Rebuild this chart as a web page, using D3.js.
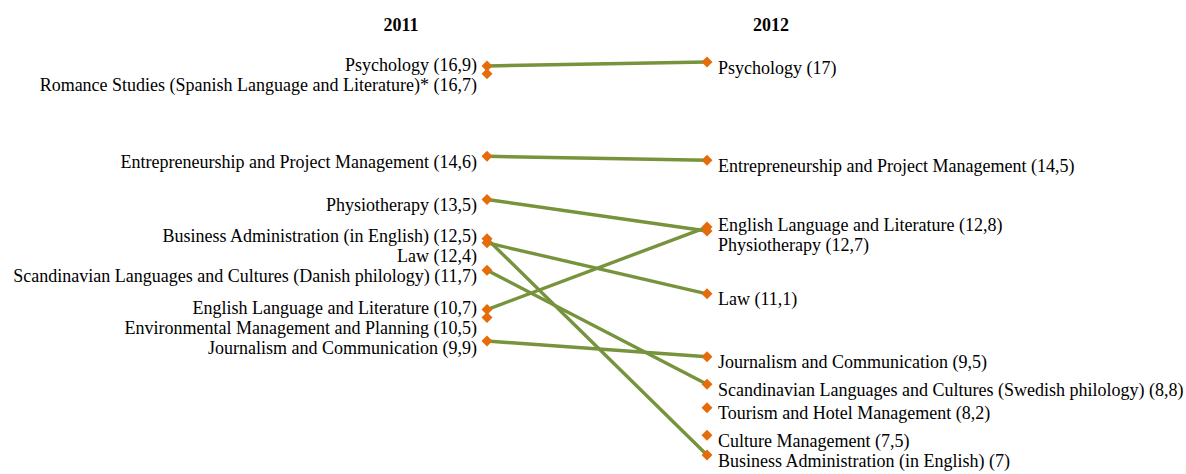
<!DOCTYPE html>
<html>
<head>
<meta charset="utf-8">
<script src="https://cdn.jsdelivr.net/npm/d3@7"></script>
<style>
  body { margin: 0; background: #fff; }
  text { font-family: "Liberation Serif", "Times New Roman", serif; font-size: 18px; fill: #000; }
  text.year { font-weight: bold; }
  line.slope { stroke: #77933C; stroke-width: 3.4; stroke-linecap: round; }
  path.marker { fill: #E46C0A; }
</style>
</head>
<body>
<svg width="1186" height="474"></svg>
<script>
const years = ['2011', '2012']
const leftNames =
    [ 'Psychology'
    , 'Romance Studies (Spanish Language and Literature)*'
    , 'Entrepreneurship and Project Management'
    , 'Physiotherapy'
    , 'Business Administration (in English)'
    , 'Law'
    , 'Scandinavian Languages and Cultures (Danish philology)'
    , 'English Language and Literature'
    , 'Environmental Management and Planning'
    , 'Journalism and Communication'
    ]
const leftValues = [16.9, 16.7, 14.6, 13.5, 12.5, 12.4, 11.7, 10.7, 10.5, 9.9]
const rightNames =
    [ 'Psychology'
    , 'Entrepreneurship and Project Management'
    , 'English Language and Literature'
    , 'Physiotherapy'
    , 'Law'
    , 'Journalism and Communication'
    , 'Scandinavian Languages and Cultures (Swedish philology)'
    , 'Tourism and Hotel Management'
    , 'Culture Management'
    , 'Business Administration (in English)'
    ]
const rightValues = [17, 14.5, 12.8, 12.7, 11.1, 9.5, 8.8, 8.2, 7.5, 7]
// [index in 2011 list, index in 2012 list]
const links = [[0, 0], [2, 1], [3, 3], [4, 9], [5, 4], [6, 6], [7, 2], [9, 5]]

const svg = d3.select('svg')
    , scaleX = d3.scalePoint().domain(years).range([487, 707])
    , scaleY = d3.scaleLinear().domain([7, 17]).range([455, 62])
    , labelGap = 20
    , labelOffset = 11.5
    , fmt = v => String(v).replace('.', ',')
    , diamond = r => `M0,${-r}L${r},0L0,${r}L${-r},0Z`

// spread labels so they don't overlap, keeping clusters centred on their points
const dodge = ys => {
    const clusters = []
    ys.forEach((y, i) => {
        clusters.push({ items: [i], sum: y, top: y })
        while (clusters.length > 1) {
            const c = clusters[clusters.length - 1]
                , p = clusters[clusters.length - 2]
                , pBottom = p.top + (p.items.length - 1) * labelGap
            if (c.top - pBottom >= labelGap) break
            p.items.push(...c.items)
            p.sum += c.sum
            p.top = p.sum / p.items.length - (p.items.length - 1) * labelGap / 2
            clusters.pop()
        }
    })
    const out = []
    clusters.forEach(c => c.items.forEach((i, k) => { out[i] = c.top + k * labelGap }))
    return out
}

const left = leftNames.map((name, i) => ({ name, value: leftValues[i] }))
    , right = rightNames.map((name, i) => ({ name, value: rightValues[i] }))

svg.selectAll('text.year')
    .data(years)
    .join('text')
    .attr('class', 'year')
    .attr('text-anchor', 'middle')
    .attr('x', (d, i) => scaleX(d) + (i ? 64 : -86))
    .attr('y', 31)
    .text(d => d)

svg.selectAll('line.slope')
    .data(links)
    .join('line')
    .attr('class', 'slope')
    .attr('x1', scaleX(years[0]))
    .attr('x2', scaleX(years[1]))
    .attr('y1', ([a]) => scaleY(leftValues[a]))
    .attr('y2', ([, b]) => scaleY(rightValues[b]))

const drawSide = (data, year, anchor, dx) => {
    const ys = dodge(data.map(d => scaleY(d.value) + labelOffset))
    const g = svg.append('g')
    g.selectAll('path.marker')
        .data(data)
        .join('path')
        .attr('class', 'marker')
        .attr('d', diamond(5.5))
        .attr('transform', d => `translate(${[scaleX(year), scaleY(d.value)]})`)
    g.selectAll('text.label')
        .data(data)
        .join('text')
        .attr('class', 'label')
        .attr('text-anchor', anchor)
        .attr('x', scaleX(year) + dx)
        .attr('y', (d, i) => ys[i])
        .text(d => `${d.name} (${fmt(d.value)})`)
}

drawSide(left, years[0], 'end', -10)
drawSide(right, years[1], 'start', 11)
</script>
</body>
</html>
